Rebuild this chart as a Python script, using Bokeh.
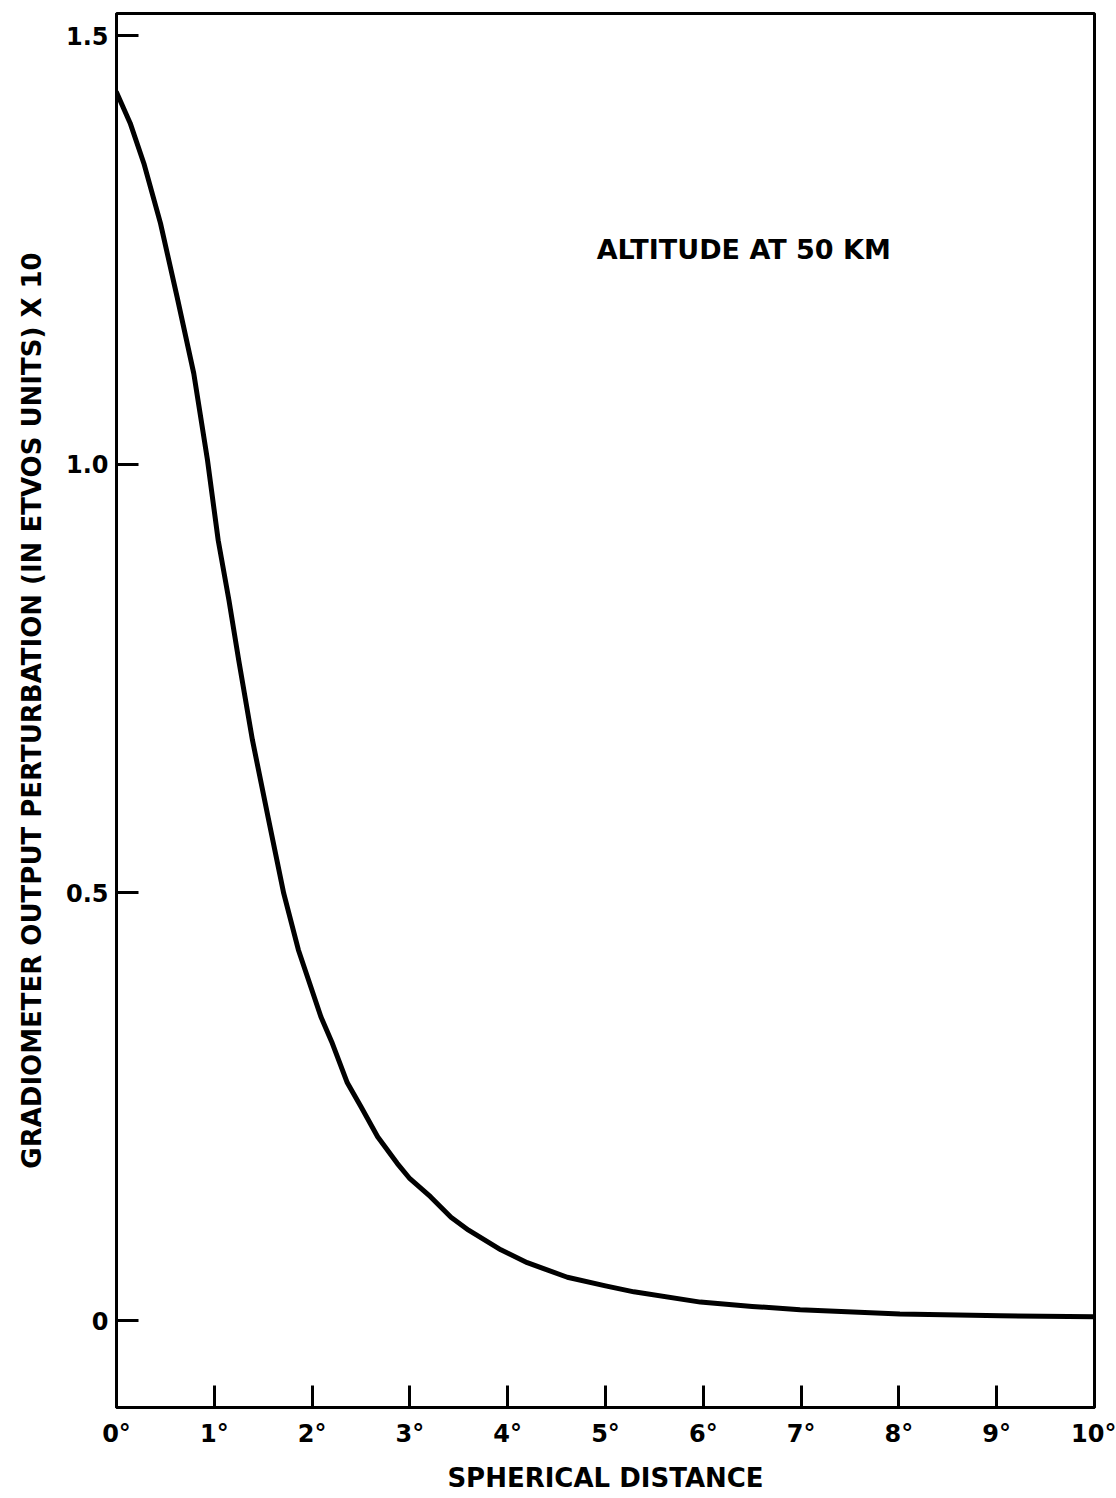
from bokeh.plotting import figure
from bokeh.models import Range1d, FixedTicker, Label
from bokeh.embed import file_html
from bokeh.resources import INLINE

# Data (spherical distance in degrees, perturbation x10)
distance_deg = [0.0, 0.14, 0.28, 0.45, 0.62, 0.79, 0.93, 1.04, 1.15, 1.25, 1.39,
                1.55, 1.71, 1.86, 2.09, 2.2, 2.36, 2.5, 2.67, 2.87, 3.0, 3.21,
                3.42, 3.6, 3.93, 4.2, 4.61, 5.0, 5.29, 5.97, 6.5, 6.99, 8.01,
                9.04, 10.0]
perturbation = [1.434, 1.398, 1.351, 1.281, 1.195, 1.106, 1.005, 0.911, 0.841,
                0.771, 0.678, 0.588, 0.499, 0.433, 0.355, 0.326, 0.278, 0.25,
                0.215, 0.184, 0.166, 0.145, 0.121, 0.106, 0.083, 0.068, 0.051,
                0.041, 0.034, 0.022, 0.017, 0.013, 0.008, 0.006, 0.005]

x_ticks = [0, 1, 2, 3, 4, 5, 6, 7, 8, 9, 10]
x_tick_labels = ["0°", "1°", "2°", "3°", "4°", "5°", "6°", "7°", "8°", "9°", "10°"]
y_ticks = [0, 0.5, 1.0, 1.5]
y_tick_labels = ["0", "0.5", "1.0", "1.5"]

FONT = "DejaVu Sans"

p = figure(width=1116, height=1498, output_backend="svg", toolbar_location=None,
           x_range=Range1d(0, 10), y_range=Range1d(-0.101, 1.526),
           min_border_left=116, min_border_right=22, min_border_top=13,
           min_border_bottom=91)

p.line(distance_deg, perturbation, line_color="black", line_width=5,
       line_join="round", line_cap="round")

p.grid.visible = False
p.outline_line_color = "black"
p.outline_line_width = 3
p.background_fill_color = "white"
p.border_fill_color = "white"

for ax in (p.xaxis[0], p.yaxis[0]):
    ax.axis_line_width = 3
    ax.axis_line_color = "black"
    ax.major_tick_in = 22
    ax.major_tick_out = 0
    ax.major_tick_line_width = 3
    ax.major_tick_line_color = "black"
    ax.minor_tick_line_color = None
    ax.major_label_text_font = FONT
    ax.major_label_text_font_style = "bold"
    ax.major_label_text_font_size = "24px"
    ax.major_label_text_color = "black"
    ax.axis_label_text_font = FONT
    ax.axis_label_text_font_style = "bold"
    ax.axis_label_text_font_size = "26px"
    ax.axis_label_text_color = "black"

p.xaxis.ticker = FixedTicker(ticks=x_ticks)
p.xaxis.major_label_overrides = {t: l for t, l in zip(x_ticks, x_tick_labels)}
p.xaxis.major_label_standoff = 12
p.xaxis.axis_label = "SPHERICAL DISTANCE"
p.xaxis.axis_label_standoff = 12

p.yaxis.ticker = FixedTicker(ticks=y_ticks)
p.yaxis.major_label_overrides = {t: l for t, l in zip(y_ticks, y_tick_labels)}
p.yaxis.major_label_standoff = 8
p.yaxis.axis_label = "GRADIOMETER OUTPUT PERTURBATION (IN ETVOS UNITS) X 10"
p.yaxis.axis_label_standoff = 16

p.add_layout(Label(x=4.91, y=1.25, text="ALTITUDE AT 50 KM",
                   text_font=FONT, text_font_style="bold",
                   text_font_size="27px", text_color="black",
                   text_baseline="middle", text_align="left"))

open("out.html", "w").write(file_html(p, INLINE))
